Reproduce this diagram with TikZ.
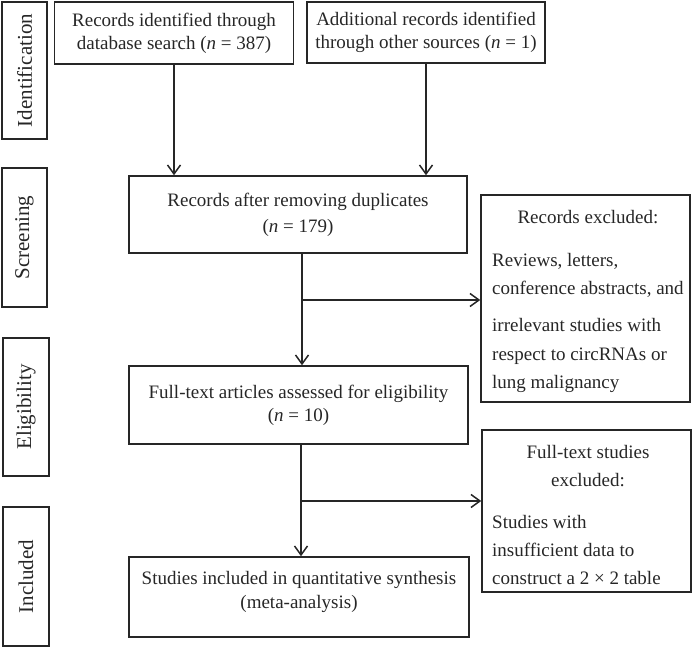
\documentclass[tikz,border=0pt]{standalone}
\usepackage{fontspec}
\setmainfont{Liberation Serif}
\usetikzlibrary{arrows.meta}
\definecolor{ink}{HTML}{262626}
\begin{document}
\begin{tikzpicture}[x=1pt,y=-1pt,
  box/.style={draw=ink, line width=1.5pt, text=ink, inner sep=0pt, align=center},
  stage/.style={box, rotate=90, font=\fontsize{21}{24}\selectfont},
  body/.style={font=\fontsize{19}{23}\selectfont},
  txt/.style={body, text=ink, inner sep=0pt},
  arr/.style={draw=ink, line width=1.5pt, -{Straight Barb[length=9pt,width=13pt,line width=1.5pt]}}]
\useasboundingbox (0,0) rectangle (692,647);

% stage labels
\node[stage, minimum width=137pt, minimum height=45pt] (id) at (24.5,70.5) {Identification};
\node[stage, minimum width=139pt, minimum height=45pt] (sc) at (24.5,237.5) {Screening};
\node[stage, minimum width=138pt, minimum height=46pt] (el) at (26,407) {Eligibility};
\node[stage, minimum width=139pt, minimum height=46pt] (in) at (26,576.5) {Included};

% main flow boxes
\node[box, body, minimum width=239pt, minimum height=62pt] (A) at (174,33)
  {Records identified through\\database search (\textit{n} = 387)};
\node[box, body, minimum width=238pt, minimum height=61pt] (B) at (426,32.5)
  {Additional records identified\\through other sources (\textit{n} = 1)};
\node[box, body, minimum width=338pt, minimum height=77pt, font=\fontsize{19}{26}\selectfont] (C) at (298,214.5)
  {Records after removing duplicates\\(\textit{n} = 179)};
\node[box, body, minimum width=339pt, minimum height=78pt] (E) at (298.5,405)
  {Full-text articles assessed for eligibility\\(\textit{n} = 10)};
\node[box, minimum width=340pt, minimum height=80pt] (G) at (299,597) {};
\node[txt, align=center, font=\fontsize{19}{24}\selectfont] (Gt) at (299,592)
  {Studies included in quantitative synthesis\\(meta-analysis)};

% exclusion boxes
\node[box, minimum width=209pt, minimum height=207pt] (D) at (585.5,298.5) {};
\node[txt, anchor=base] (D0) at (588,223) {Records excluded:};
\node[txt, anchor=base west] (D1) at (492,266) {Reviews, letters,};
\node[txt, anchor=base west] (D2) at (492,294) {conference abstracts, and};
\node[txt, anchor=base west] (D3) at (492,331) {irrelevant studies with};
\node[txt, anchor=base west] (D4) at (492,360) {respect to circRNAs or};
\node[txt, anchor=base west] (D5) at (492,388) {lung malignancy};

\node[box, minimum width=209pt, minimum height=162pt] (F) at (586.5,511) {};
\node[txt, anchor=base] (F0) at (588,458) {Full-text studies};
\node[txt, anchor=base] (F1) at (588,486) {excluded:};
\node[txt, anchor=base west] (F2) at (492,528) {Studies with};
\node[txt, anchor=base west] (F3) at (492,556) {insufficient data to};
\node[txt, anchor=base west] (F4) at (492,584) {construct a 2 × 2 table};

% junctions
\coordinate (j1) at (302,300);
\coordinate (j2) at (301,501);

% connectors
\draw[arr] (A.south) -- (A.south |- C.north);
\draw[arr] (B.south) -- (B.south |- C.north);
\draw[arr] (C.south -| j1) -- (E.north -| j1);
\draw[arr] (j1) -- (j1 -| D.west);
\draw[arr] (E.south -| j2) -- (G.north -| j2);
\draw[arr] (j2) -- (j2 -| F.west);
\end{tikzpicture}
\end{document}
